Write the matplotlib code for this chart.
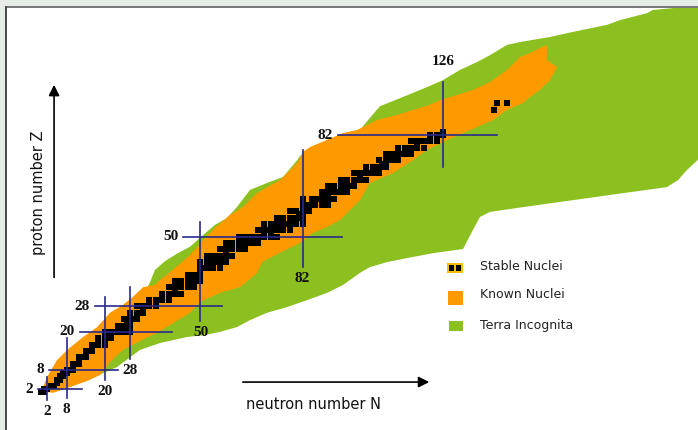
import matplotlib
matplotlib.use('Agg')
import matplotlib.pyplot as plt
from matplotlib.patches import Polygon, Rectangle

# outline of the whole chart region ("terra incognita"), neutron number N / proton number Z
terra_n = [14.7, 23.8, 31.0, 37.3, 45.8, 51.4, 56.1, 61.4, 65.5, 70.8, 77.1, 83.4, 89.7, 94.7,
           100.0, 103.1, 108.5, 116.6, 122.9, 132.3, 135.4, 137.6, 140.8, 151.1, 166.8, 182.4,
           196.2, 199.7, 202.5, 210.0, 210.0, 198.1, 191.8, 190.0, 181.5, 177.4, 166.8, 159.6,
           150.2, 146.1, 140.8, 136.7, 131.3, 126.0, 121.0, 112.5, 106.3, 103.1, 100.0, 94.7,
           84.3, 81.2, 80.3, 75.9, 70.8, 65.5, 61.4, 58.3, 54.5, 49.8, 46.7, 42.9, 38.9, 35.7,
           34.2, 24.8]
terra_z = [4.9, 8.9, 14.3, 16.5, 18.4, 19.0, 20.0, 21.5, 23.7, 26.0, 27.8, 30.0, 32.3, 34.8,
           38.6, 40.4, 42.0, 43.6, 44.8, 46.1, 52.1, 56.2, 57.8, 59.3, 61.5, 63.7,
           65.6, 67.8, 71.0, 78.0, 122.5, 122.0, 121.4, 120.4, 118.2, 116.7, 114.5, 112.9,
           111.3, 110.4, 107.2, 105.0, 102.5, 99.3, 97.1, 93.6, 91.1, 87.4, 83.6, 82.6,
           77.9, 75.4, 74.1, 68.8, 66.9, 64.7, 59.3, 55.9, 53.7, 49.6, 46.8, 44.8, 42.3, 39.5,
           35.7, 17.4]

# outline of the known nuclei
known_n = [-0.3, 3.8, 8.2, 14.4, 18.5, 21.6, 25.7, 31.0, 36.4, 42.0, 46.7, 49.8, 56.1, 62.4,
           67.7, 69.3, 74.9, 81.2, 85.3, 89.7, 93.7, 96.9, 100.0, 103.1, 110.3, 116.6, 121.0,
           127.3, 132.3, 136.7, 141.7, 146.1, 151.1, 153.3, 156.4, 159.6, 161.8, 158.6, 158.6,
           156.4, 153.3, 150.2, 146.1, 140.8, 135.4, 130.4, 125.1, 121.9, 116.6, 111.6, 105.3,
           99.1, 94.7, 84.3, 82.1, 80.3, 74.9, 67.7, 63.3, 59.2, 54.5, 50.8, 46.7, 42.0, 37.3,
           35.7, 32.0, 28.8, 25.7, 21.6, 17.6, 13.2, 8.2, 5.0, 1.9, 0.3]
known_z = [1.4, 0.8, 2.3, 4.5, 6.4, 10.5, 14.3, 17.1, 19.7, 23.1, 26.0, 29.4, 32.3, 34.1,
           38.5, 42.0, 44.9, 48.0, 51.2, 53.0, 55.2, 58.4, 61.5, 66.9, 70.0, 74.1, 77.3,
           80.4, 82.6, 84.5, 86.7, 89.9, 92.1, 94.0, 96.2, 99.3, 103.4, 105.6, 110.4,
           109.4, 107.8, 106.6, 102.5, 98.7, 96.2, 94.6, 93.0, 91.5, 89.9, 88.3, 86.7,
           83.6, 82.6, 78.2, 76.7, 73.2, 67.8, 63.7, 59.3, 56.8, 52.7, 48.9, 44.2, 40.1, 36.3,
           34.8, 34.1, 31.0, 28.5, 26.0, 21.5, 18.4, 14.3, 11.1, 5.8, 1.7]

# stable (and very long-lived) nuclei: neutron numbers for each Z (index = Z)
stable_n_by_z = [
    [], [0, 1], [1, 2], [3, 4], [5], [5, 6], [6, 7], [7, 8], [8, 9, 10], [10],
    [10, 11, 12], [12], [12, 13, 14], [14], [14, 15, 16], [16], [16, 17, 18, 20], [18, 20],
    [18, 20, 22], [20, 21, 22], [20, 22, 23, 24, 26, 28], [24], [24, 25, 26, 27, 28], [27, 28],
    [26, 28, 29, 30], [30], [28, 30, 31, 32], [32], [30, 32, 33, 34, 36], [34, 36],
    [34, 36, 37, 38, 40], [38, 40], [38, 40, 41, 42, 44], [42], [40, 42, 43, 44, 46, 48],
    [44, 46], [42, 44, 46, 47, 48, 50], [48, 50], [46, 48, 49, 50], [50], [50, 51, 52, 54, 56],
    [52], [50, 52, 53, 54, 55, 56, 58], [], [52, 54, 55, 56, 57, 58, 60], [58],
    [56, 58, 59, 60, 62, 64], [60, 62], [58, 60, 62, 63, 64, 65, 66, 68], [64, 66],
    [62, 64, 65, 66, 67, 68, 69, 70, 72, 74], [70, 72], [68, 70, 71, 72, 73, 74, 76, 78], [74],
    [70, 72, 74, 75, 76, 77, 78, 80, 82], [78], [74, 76, 78, 79, 80, 81, 82], [81, 82],
    [78, 80, 82, 84], [82], [82, 83, 84, 85, 86, 88, 90], [], [82, 85, 86, 87, 88, 90, 92],
    [88, 90], [88, 90, 91, 92, 93, 94, 96], [94], [90, 92, 94, 95, 96, 97, 98], [98],
    [94, 96, 98, 99, 100, 102], [100], [98, 100, 101, 102, 103, 104, 106], [104, 105],
    [102, 104, 105, 106, 107, 108], [107, 108], [106, 108, 109, 110, 112], [110, 112],
    [108, 110, 111, 112, 113, 114, 116], [114, 116], [112, 114, 116, 117, 118, 120], [118],
    [116, 118, 119, 120, 121, 122, 124], [122, 124], [122, 124, 125, 126], [126],
    [], [], [], [], [], [], [142], [], [143, 146],
]

# magic numbers: horizontal lines at Z, vertical lines at N (start, end of each line)
magic_z = [2, 8, 20, 28, 50, 82]
magic_z_from = [-0.9, 2.5, 12.2, 16.9, 44.5, 93.1]
magic_z_to = [12.9, 24.1, 41.1, 56.7, 94.4, 142.9]
magic_n = [2, 8, 20, 28, 50, 82, 126]
magic_n_from = [-1.4, -0.8, 4.9, 11.5, 23.4, 40.4, 71.9]
magic_n_to = [5.8, 18.1, 31.0, 34.1, 54.6, 77.3, 98.7]

green = '#8cc020'
orange = '#ff9900'
navy = '#2a2a8c'

fig = plt.figure(figsize=(6.98, 4.30), dpi=100, facecolor='white')
ax = fig.add_axes([0, 0, 1, 1])
ax.set_xlim(-12.85, 205.96)
ax.set_ylim(-10.9, 124.54)
ax.axis('off')

ax.add_patch(Polygon(list(zip(terra_n, terra_z)), closed=True, facecolor=green,
                     edgecolor='none', zorder=1))
ax.add_patch(Polygon(list(zip(known_n, known_z)), closed=True, facecolor=orange,
                     edgecolor='none', zorder=2))

stable_n = []
stable_z = []
for z, ns in enumerate(stable_n_by_z):
    for n in ns:
        stable_n.append(n)
        stable_z.append(z)
ax.scatter(stable_n, stable_z, marker='s', s=15, c='black', linewidths=0, zorder=3)

serif = dict(family='Liberation Serif', fontweight='bold', fontsize=11, color='#111111')
for z, a, b in zip(magic_z, magic_z_from, magic_z_to):
    ax.plot([a, b], [z, z], color=navy, lw=1.2, zorder=5)
    ax.annotate(str(z), xy=(a, z), xytext=(-3.5, 0), textcoords='offset points',
                ha='right', va='center', **serif)
for n, a, b in zip(magic_n, magic_n_from, magic_n_to):
    ax.plot([n, n], [a, b], color=navy, lw=1.2, zorder=5)
    if n == 126:
        ax.annotate(str(n), xy=(n, b), xytext=(0, 10), textcoords='offset points',
                    ha='center', va='bottom', **serif)
    else:
        ax.annotate(str(n), xy=(n, a), xytext=(0, -3.5), textcoords='offset points',
                    ha='center', va='top', **serif)

# axis arrows and labels
ax.annotate('', xy=(4.1, 98.7), xytext=(4.1, 36.3),
            arrowprops=dict(arrowstyle='-|>', color='black', lw=1.2, mutation_scale=16))
ax.annotate('', xy=(122.6, 4.2), xytext=(62.4, 4.2),
            arrowprops=dict(arrowstyle='-|>', color='black', lw=1.2, mutation_scale=16))
ax.text(-0.9, 63.7, 'proton number Z', rotation=90, ha='center', va='center',
        fontsize=10.5, color='#111111')
ax.text(85.3, -3.0, 'neutron number N', ha='center', va='center',
        fontsize=10.5, color='#111111')

# legend drawn by hand (pixel positions of the original)
W, H = 698, 430


def box(x, y, w, h, color):
    ax.add_patch(Rectangle((x / W, 1 - (y + h) / H), w / W, h / H, transform=ax.transAxes,
                           facecolor=color, edgecolor='none', zorder=6))


box(447, 263, 16, 10, '#f2c200')
box(449, 265, 5, 6, 'black')
box(456, 265, 5, 6, 'black')
box(448, 291, 15, 14, orange)
box(449, 321, 14, 10, green)
for y, label in zip([266, 294, 325], ['Stable Nuclei', 'Known Nuclei', 'Terra Incognita']):
    ax.text(480 / W, 1 - y / H, label, transform=ax.transAxes, ha='left', va='center',
            fontsize=9, color='#222222')

# frame of the screenshot
fig.add_artist(Rectangle((0, 1 - 6 / H), 1, 6 / H, transform=fig.transFigure,
                         facecolor='#e6ede6', edgecolor='none'))
fig.add_artist(Rectangle((0, 0), 5 / W, 1, transform=fig.transFigure,
                         facecolor='#e6ede6', edgecolor='none'))
fig.add_artist(Rectangle((5 / W, 1 - 8 / H), 1, 2 / H, transform=fig.transFigure,
                         facecolor='#7a7a7a', edgecolor='none'))
fig.add_artist(Rectangle((5 / W, 0), 2 / W, 1 - 6 / H, transform=fig.transFigure,
                         facecolor='#4a4a4a', edgecolor='none'))

fig.savefig('out.png', dpi=100, facecolor='white')
